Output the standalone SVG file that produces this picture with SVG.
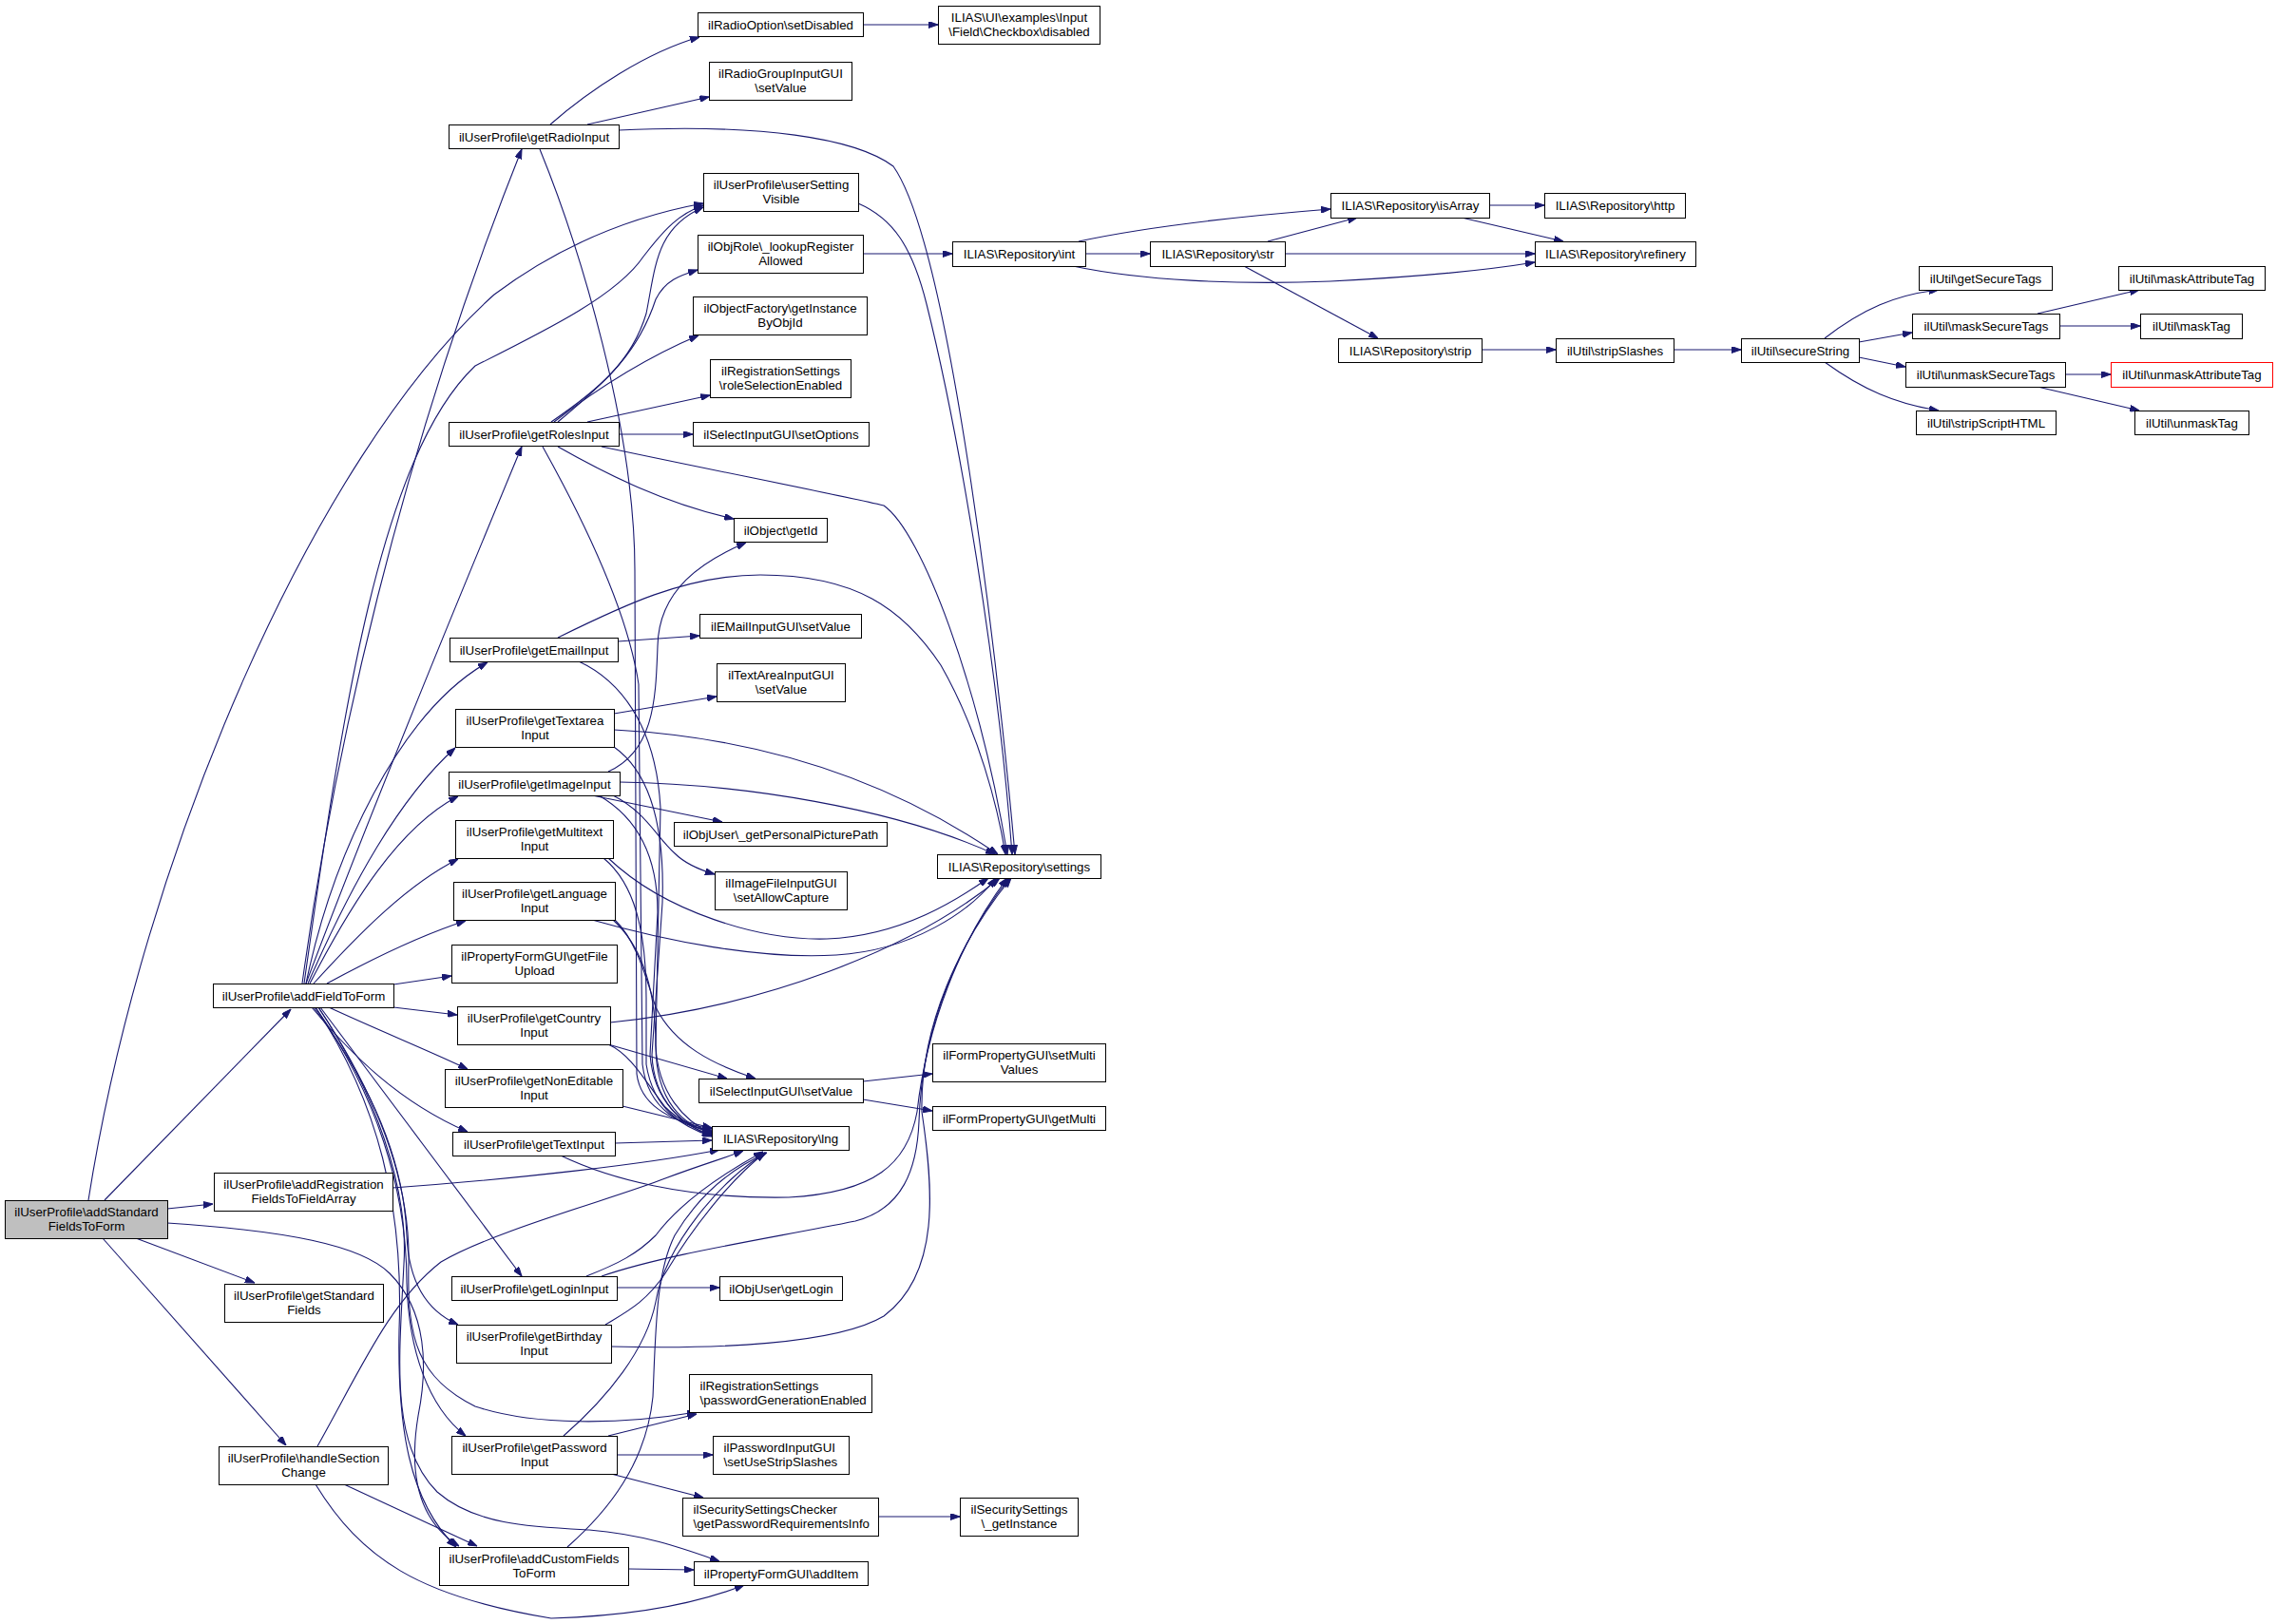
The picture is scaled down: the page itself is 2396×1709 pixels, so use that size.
<svg xmlns="http://www.w3.org/2000/svg" width="2396" height="1709" viewBox="0 0 2396 1709">
<style>
.node rect{fill:#ffffff;stroke:#000000;stroke-width:1}
.node.main rect{fill:#bfbfbf}
.node.red rect{stroke:#ff0000}
.node text{font-family:"Liberation Sans",Arial,Helvetica,sans-serif;font-size:13.3px;fill:#000000;text-anchor:middle}
.node text.l{text-anchor:start}
.edges path{fill:none;stroke:#191970;stroke-width:1.1;marker-end:url(#arr)}
</style>
<defs>
<marker id="arr" viewBox="0 0 10 7" refX="10" refY="3.5" markerWidth="10" markerHeight="7" markerUnits="userSpaceOnUse" orient="auto">
<polygon points="0,0 10,3.5 0,7" fill="#191970" stroke="#191970" stroke-width="1"/>
</marker>
</defs>
<rect x="0" y="0" width="2396" height="1709" fill="#ffffff"/>
<g id="edges" class="edges">
<path d="M110,1263 L306,1062"/>
<path d="M93,1263 C150,900 330,480 520,310 C600,250 680,225 740,214"/>
<path d="M176,1272 L224,1267"/>
<path d="M143,1303 L268,1350"/>
<path d="M108,1303 L301,1521"/>
<path d="M176,1287 C300,1295 380,1310 410,1340 C450,1380 450,1440 440,1490 C430,1550 440,1600 483,1627"/>
<path d="M318,1035 C350,800 420,480 549,157"/>
<path d="M320,1035 C360,750 400,480 500,385 C580,345 650,310 677,270 C700,240 715,225 740,216"/>
<path d="M322,1035 C380,880 470,660 549,470"/>
<path d="M322,1035 C350,900 420,750 513,697"/>
<path d="M324,1035 C370,930 420,840 479,787"/>
<path d="M326,1035 C370,950 420,870 482,838"/>
<path d="M330,1035 C380,980 430,930 482,904"/>
<path d="M344,1035 C390,1010 440,985 490,969"/>
<path d="M414,1036 L475,1027"/>
<path d="M414,1060 L481,1068"/>
<path d="M346,1060 C400,1085 450,1105 492,1125"/>
<path d="M328,1060 C370,1110 420,1160 492,1191"/>
<path d="M337,1060 L549,1343"/>
<path d="M330,1060 C390,1140 425,1220 428,1300 C430,1350 450,1380 482,1394"/>
<path d="M332,1060 C395,1150 428,1250 428,1350 C430,1420 450,1480 490,1511"/>
<path d="M332,1060 C398,1160 425,1270 420,1400 C418,1500 430,1580 480,1628"/>
<path d="M335,1060 C395,1150 430,1250 425,1330 C420,1430 410,1520 460,1570 C500,1605 560,1607 620,1610 C680,1615 720,1630 757,1643"/>
<path d="M335,1060 C395,1150 432,1240 430,1330 C428,1410 440,1450 500,1480 C560,1500 650,1500 733,1486"/>
<path d="M579,131 C620,95 680,55 736,39"/>
<path d="M618,131 L746,102"/>
<path d="M651,137 C800,130 900,145 940,175 C1000,260 1050,700 1068,899"/>
<path d="M568,157 C610,260 668,450 668,600 L670,1130 C675,1170 720,1183 749,1188"/>
<path d="M580,444 C630,410 665,380 680,330 C690,280 690,240 740,218"/>
<path d="M587,444 C640,400 672,370 690,315 C700,295 715,290 734,284"/>
<path d="M583,444 C640,400 690,372 735,353"/>
<path d="M618,444 L747,416"/>
<path d="M651,457 L729,457"/>
<path d="M587,470 C640,500 700,530 772,546"/>
<path d="M633,470 C750,495 880,520 930,532 C970,560 1030,720 1060,899"/>
<path d="M571,470 C610,540 660,640 672,720 L676,1120 C682,1170 720,1186 749,1190"/>
<path d="M650,675 L736,669"/>
<path d="M587,671 C650,640 720,605 800,605 C900,605 950,640 990,700 C1030,770 1050,850 1058,899"/>
<path d="M609,696 C650,715 690,760 695,850 L690,1100 C690,1160 720,1185 749,1192"/>
<path d="M646,751 L754,733"/>
<path d="M646,768 C780,775 920,810 1050,899"/>
<path d="M646,786 C680,810 700,860 697,950 L686,1110 C688,1160 720,1186 749,1194"/>
<path d="M640,812 C690,790 690,730 692,680 C693,620 740,590 785,571"/>
<path d="M652,823 C780,825 940,850 1047,899"/>
<path d="M623,837 L760,865"/>
<path d="M645,837 C680,855 690,880 710,898 C720,908 735,915 752,920"/>
<path d="M630,837 C670,860 692,900 692,960 L684,1110 C688,1160 720,1186 749,1195"/>
<path d="M640,903 C700,960 800,990 870,988 C950,985 1010,945 1040,924"/>
<path d="M635,903 C668,930 680,980 680,1050 L680,1120 C688,1170 720,1186 749,1196"/>
<path d="M623,968 C700,990 800,1010 880,1005 C960,1000 1020,960 1048,924"/>
<path d="M647,968 C670,990 680,1030 690,1060 C710,1100 750,1120 795,1135"/>
<path d="M645,968 C680,1000 690,1050 690,1100 C692,1150 720,1180 749,1193"/>
<path d="M642,1076 C800,1060 960,1000 1052,924"/>
<path d="M640,1099 L765,1135"/>
<path d="M640,1099 C665,1110 680,1140 700,1165 C715,1180 730,1186 749,1191"/>
<path d="M655,1164 L749,1187"/>
<path d="M647,1203 L749,1200"/>
<path d="M590,1216 C640,1240 720,1262 830,1260 C920,1255 955,1225 965,1170 C975,1080 1010,990 1060,924"/>
<path d="M413,1250 C550,1240 680,1225 757,1210"/>
<path d="M334,1522 C380,1440 410,1370 464,1328 C520,1295 650,1260 700,1240 C740,1225 765,1218 782,1211"/>
<path d="M649,1355 L757,1355"/>
<path d="M633,1343 C700,1320 800,1305 900,1285 C950,1272 965,1230 967,1180 C970,1080 1010,990 1062,924"/>
<path d="M617,1343 C650,1330 670,1320 690,1300 C720,1260 770,1230 803,1212"/>
<path d="M643,1417 C750,1420 880,1415 930,1385 C990,1340 982,1250 970,1170 C968,1080 1010,990 1064,924"/>
<path d="M637,1394 C660,1380 680,1370 700,1340 C730,1290 770,1240 805,1213"/>
<path d="M640,1511 L733,1488"/>
<path d="M649,1531 L750,1531"/>
<path d="M643,1551 L740,1576"/>
<path d="M593,1511 C640,1470 680,1420 690,1370 C700,1310 760,1240 806,1213"/>
<path d="M661,1651 L730,1652"/>
<path d="M597,1628 C640,1590 680,1540 687,1470 C690,1400 690,1340 710,1300 C740,1250 780,1225 807,1213"/>
<path d="M362,1562 L502,1627"/>
<path d="M332,1562 C380,1640 440,1680 580,1703 C680,1700 740,1685 783,1668"/>
<path d="M924,1596 L1010,1596"/>
<path d="M908,1138 L981,1130"/>
<path d="M908,1157 L981,1169"/>
<path d="M903,214 C940,230 960,260 975,320 C1010,460 1050,700 1065,899"/>
<path d="M908,267 L1002,267"/>
<path d="M908,26 L987,26"/>
<path d="M1135,254 C1200,240 1300,228 1400,220"/>
<path d="M1142,267 L1210,267"/>
<path d="M1129,280 C1200,295 1300,300 1400,296 C1480,292 1560,285 1615,276"/>
<path d="M1334,254 L1428,229"/>
<path d="M1352,267 L1615,267"/>
<path d="M1309,280 L1450,356"/>
<path d="M1567,216 L1625,216"/>
<path d="M1538,229 L1645,254"/>
<path d="M1559,368 L1637,368"/>
<path d="M1761,368 L1832,368"/>
<path d="M1920,356 C1960,325 1995,310 2040,305"/>
<path d="M1956,360 L2012,350"/>
<path d="M1956,376 L2005,386"/>
<path d="M1920,381 C1960,410 1995,425 2040,432"/>
<path d="M2144,330 L2251,305"/>
<path d="M2167,343 L2252,343"/>
<path d="M2173,394 L2221,394"/>
<path d="M2144,407 L2251,432"/>
</g>
<g id="nodes" transform="translate(0.5,0.5)">
<g id="n_asf" class="node main"><rect x="5" y="1263" width="171" height="40"/><text x="90.5" y="1279.5">ilUserProfile\addStandard</text><text x="90.5" y="1294.5">FieldsToForm</text></g>
<g id="n_aff" class="node"><rect x="224" y="1035" width="190" height="25"/><text x="319" y="1052">ilUserProfile\addFieldToForm</text></g>
<g id="n_arf" class="node"><rect x="225" y="1234" width="188" height="40"/><text x="319" y="1250.5">ilUserProfile\addRegistration</text><text x="319" y="1265.5">FieldsToFieldArray</text></g>
<g id="n_gsf" class="node"><rect x="236" y="1351" width="167" height="40"/><text x="319.5" y="1367.5">ilUserProfile\getStandard</text><text x="319.5" y="1382.5">Fields</text></g>
<g id="n_hsc" class="node"><rect x="230" y="1522" width="178" height="40"/><text x="319" y="1538.5">ilUserProfile\handleSection</text><text x="319" y="1553.5">Change</text></g>
<g id="n_rad" class="node"><rect x="472" y="131" width="179" height="25"/><text x="561.5" y="148">ilUserProfile\getRadioInput</text></g>
<g id="n_rol" class="node"><rect x="472" y="444" width="179" height="25"/><text x="561.5" y="461">ilUserProfile\getRolesInput</text></g>
<g id="n_em" class="node"><rect x="473" y="671" width="177" height="25"/><text x="561.5" y="688">ilUserProfile\getEmailInput</text></g>
<g id="n_ta" class="node"><rect x="479" y="746" width="167" height="40"/><text x="562.5" y="762.5">ilUserProfile\getTextarea</text><text x="562.5" y="777.5">Input</text></g>
<g id="n_img" class="node"><rect x="472" y="812" width="180" height="25"/><text x="562" y="829">ilUserProfile\getImageInput</text></g>
<g id="n_mt" class="node"><rect x="479" y="863" width="166" height="40"/><text x="562" y="879.5">ilUserProfile\getMultitext</text><text x="562" y="894.5">Input</text></g>
<g id="n_lang" class="node"><rect x="477" y="928" width="170" height="40"/><text x="562" y="944.5">ilUserProfile\getLanguage</text><text x="562" y="959.5">Input</text></g>
<g id="n_fu" class="node"><rect x="475" y="994" width="174" height="40"/><text x="562" y="1010.5">ilPropertyFormGUI\getFile</text><text x="562" y="1025.5">Upload</text></g>
<g id="n_co" class="node"><rect x="481" y="1059" width="161" height="40"/><text x="561.5" y="1075.5">ilUserProfile\getCountry</text><text x="561.5" y="1090.5">Input</text></g>
<g id="n_ne" class="node"><rect x="468" y="1125" width="187" height="40"/><text x="561.5" y="1141.5">ilUserProfile\getNonEditable</text><text x="561.5" y="1156.5">Input</text></g>
<g id="n_ti" class="node"><rect x="476" y="1191" width="171" height="25"/><text x="561.5" y="1208">ilUserProfile\getTextInput</text></g>
<g id="n_log" class="node"><rect x="475" y="1343" width="174" height="25"/><text x="562" y="1360">ilUserProfile\getLoginInput</text></g>
<g id="n_bd" class="node"><rect x="480" y="1394" width="163" height="40"/><text x="561.5" y="1410.5">ilUserProfile\getBirthday</text><text x="561.5" y="1425.5">Input</text></g>
<g id="n_pw" class="node"><rect x="475" y="1511" width="174" height="40"/><text x="562" y="1527.5">ilUserProfile\getPassword</text><text x="562" y="1542.5">Input</text></g>
<g id="n_acf" class="node"><rect x="462" y="1628" width="199" height="40"/><text x="561.5" y="1644.5">ilUserProfile\addCustomFields</text><text x="561.5" y="1659.5">ToForm</text></g>
<g id="n_rsd" class="node"><rect x="734" y="13" width="174" height="25"/><text x="821" y="30">ilRadioOption\setDisabled</text></g>
<g id="n_rgv" class="node"><rect x="746" y="65" width="150" height="40"/><text x="821" y="81.5">ilRadioGroupInputGUI</text><text x="821" y="96.5">\setValue</text></g>
<g id="n_usv" class="node"><rect x="740" y="182" width="163" height="40"/><text x="821.5" y="198.5">ilUserProfile\userSetting</text><text x="821.5" y="213.5">Visible</text></g>
<g id="n_or" class="node"><rect x="734" y="247" width="174" height="40"/><text x="821" y="263.5">ilObjRole\_lookupRegister</text><text x="821" y="278.5">Allowed</text></g>
<g id="n_of" class="node"><rect x="729" y="312" width="183" height="40"/><text x="820.5" y="328.5">ilObjectFactory\getInstance</text><text x="820.5" y="343.5">ByObjId</text></g>
<g id="n_rse" class="node"><rect x="747" y="378" width="148" height="40"/><text x="821" y="394.5">ilRegistrationSettings</text><text x="821" y="409.5">\roleSelectionEnabled</text></g>
<g id="n_so" class="node"><rect x="729" y="444" width="185" height="25"/><text x="821.5" y="461">ilSelectInputGUI\setOptions</text></g>
<g id="n_gid" class="node"><rect x="772" y="545" width="98" height="25"/><text x="821" y="562">ilObject\getId</text></g>
<g id="n_emv" class="node"><rect x="736" y="646" width="170" height="25"/><text x="821" y="663">ilEMailInputGUI\setValue</text></g>
<g id="n_tav" class="node"><rect x="754" y="698" width="135" height="40"/><text x="821.5" y="714.5">ilTextAreaInputGUI</text><text x="821.5" y="729.5">\setValue</text></g>
<g id="n_ppp" class="node"><rect x="709" y="865" width="224" height="25"/><text x="821" y="882">ilObjUser\_getPersonalPicturePath</text></g>
<g id="n_ifc" class="node"><rect x="752" y="917" width="139" height="40"/><text x="821.5" y="933.5">ilImageFileInputGUI</text><text x="821.5" y="948.5">\setAllowCapture</text></g>
<g id="n_siv" class="node"><rect x="735" y="1135" width="173" height="25"/><text x="821.5" y="1152">ilSelectInputGUI\setValue</text></g>
<g id="n_lng" class="node"><rect x="749" y="1185" width="144" height="25"/><text x="821" y="1202">ILIAS\Repository\lng</text></g>
<g id="n_ogl" class="node"><rect x="757" y="1343" width="129" height="25"/><text x="821.5" y="1360">ilObjUser\getLogin</text></g>
<g id="n_pge" class="node"><rect x="725" y="1446" width="192" height="40"/><text class="l" x="736" y="1462.5">ilRegistrationSettings</text><text class="l" x="736" y="1477.5">\passwordGenerationEnabled</text></g>
<g id="n_pss" class="node"><rect x="750" y="1511" width="143" height="40"/><text class="l" x="761" y="1527.5">ilPasswordInputGUI</text><text class="l" x="761" y="1542.5">\setUseStripSlashes</text></g>
<g id="n_ssc" class="node"><rect x="718" y="1576" width="206" height="40"/><text class="l" x="729" y="1592.5">ilSecuritySettingsChecker</text><text class="l" x="729" y="1607.5">\getPasswordRequirementsInfo</text></g>
<g id="n_ai" class="node"><rect x="730" y="1643" width="183" height="25"/><text x="821.5" y="1660">ilPropertyFormGUI\addItem</text></g>
<g id="n_cbd" class="node"><rect x="987" y="6" width="170" height="40"/><text x="1072" y="22.5">ILIAS\UI\examples\Input</text><text x="1072" y="37.5">\Field\Checkbox\disabled</text></g>
<g id="n_int" class="node"><rect x="1002" y="254" width="140" height="26"/><text x="1072" y="271.5">ILIAS\Repository\int</text></g>
<g id="n_set" class="node"><rect x="986" y="899" width="172" height="25"/><text x="1072" y="916">ILIAS\Repository\settings</text></g>
<g id="n_fmv" class="node"><rect x="981" y="1098" width="182" height="40"/><text x="1072" y="1114.5">ilFormPropertyGUI\setMulti</text><text x="1072" y="1129.5">Values</text></g>
<g id="n_fgm" class="node"><rect x="981" y="1164" width="182" height="25"/><text x="1072" y="1181">ilFormPropertyGUI\getMulti</text></g>
<g id="n_ssi" class="node"><rect x="1010" y="1576" width="124" height="40"/><text x="1072" y="1592.5">ilSecuritySettings</text><text x="1072" y="1607.5">\_getInstance</text></g>
<g id="n_str" class="node"><rect x="1210" y="254" width="142" height="26"/><text x="1281" y="271.5">ILIAS\Repository\str</text></g>
<g id="n_isa" class="node"><rect x="1400" y="203" width="167" height="26"/><text x="1483.5" y="220.5">ILIAS\Repository\isArray</text></g>
<g id="n_strip" class="node"><rect x="1408" y="356" width="151" height="25"/><text x="1483.5" y="373">ILIAS\Repository\strip</text></g>
<g id="n_http" class="node"><rect x="1625" y="203" width="148" height="26"/><text x="1699" y="220.5">ILIAS\Repository\http</text></g>
<g id="n_ref" class="node"><rect x="1615" y="254" width="169" height="26"/><text x="1699.5" y="271.5">ILIAS\Repository\refinery</text></g>
<g id="n_ssl" class="node"><rect x="1637" y="356" width="124" height="25"/><text x="1699" y="373">ilUtil\stripSlashes</text></g>
<g id="n_sec" class="node"><rect x="1832" y="356" width="124" height="25"/><text x="1894" y="373">ilUtil\secureString</text></g>
<g id="n_gst" class="node"><rect x="2019" y="280" width="140" height="25"/><text x="2089" y="297">ilUtil\getSecureTags</text></g>
<g id="n_mst" class="node"><rect x="2012" y="330" width="155" height="26"/><text x="2089.5" y="347.5">ilUtil\maskSecureTags</text></g>
<g id="n_ust" class="node"><rect x="2005" y="381" width="168" height="26"/><text x="2089" y="398.5">ilUtil\unmaskSecureTags</text></g>
<g id="n_ssh" class="node"><rect x="2016" y="432" width="147" height="25"/><text x="2089.5" y="449">ilUtil\stripScriptHTML</text></g>
<g id="n_mat" class="node"><rect x="2229" y="280" width="154" height="25"/><text x="2306" y="297">ilUtil\maskAttributeTag</text></g>
<g id="n_mtg" class="node"><rect x="2252" y="330" width="107" height="26"/><text x="2305.5" y="347.5">ilUtil\maskTag</text></g>
<g id="n_uat" class="node red"><rect x="2221" y="381" width="170" height="26"/><text x="2306" y="398.5">ilUtil\unmaskAttributeTag</text></g>
<g id="n_utg" class="node"><rect x="2246" y="432" width="120" height="25"/><text x="2306" y="449">ilUtil\unmaskTag</text></g>
</g>
</svg>
